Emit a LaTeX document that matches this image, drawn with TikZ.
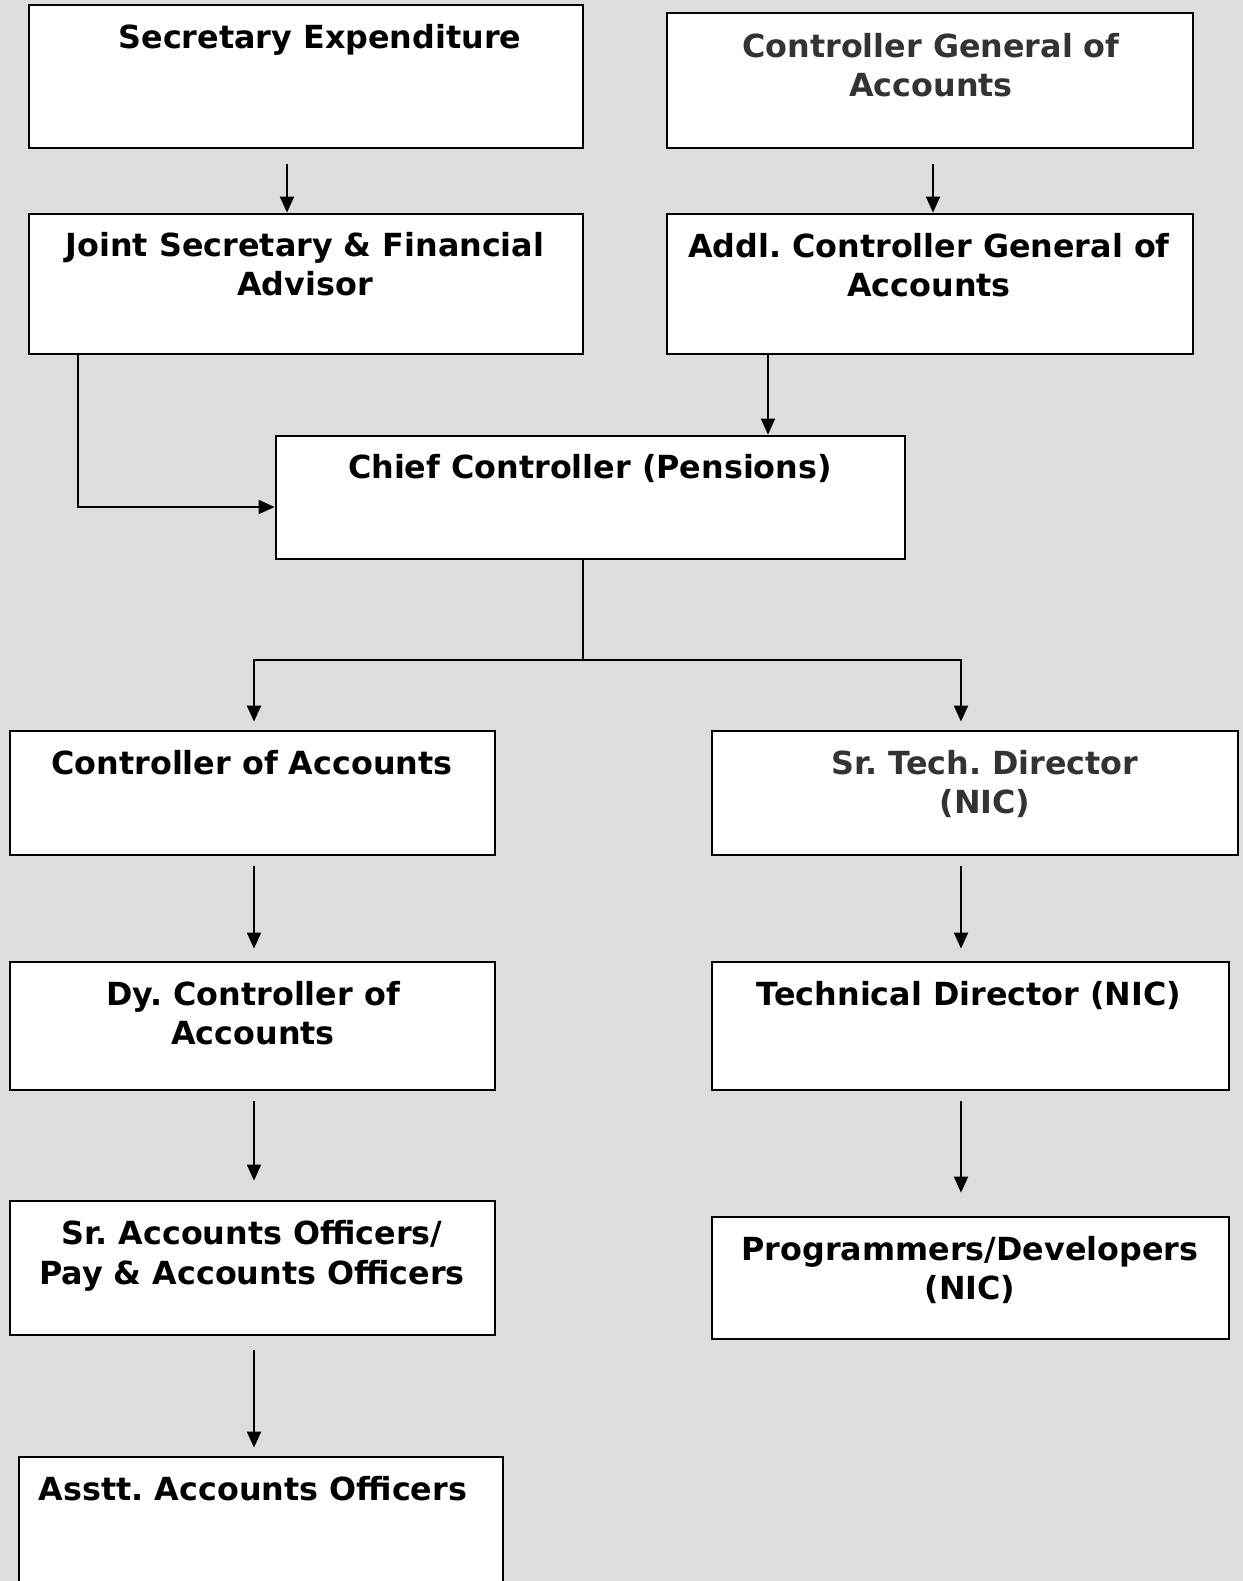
\documentclass[tikz,border=0pt]{standalone}
\usepackage{fontspec}
\setmainfont{DejaVu Sans}
\usetikzlibrary{arrows.meta,fit,calc}
\definecolor{bgcol}{RGB}{221,221,221}
\definecolor{txtgray}{RGB}{51,51,51}
\frenchspacing
\tikzset{
  box/.style={draw=black, line width=1.4pt, fill=white, inner sep=0pt},
  txt/.style={font=\bfseries\fontsize{15.9}{19}\selectfont, inner sep=0pt, anchor=base},
  arr/.style={-{Triangle[width=7pt,length=8pt]}, line width=1pt},
  conn/.style={line width=1pt}
}
\begin{document}
\begin{tikzpicture}[x=0.5pt, y=-0.5pt]
\useasboundingbox (0,0) rectangle (1243,1581);
\fill[bgcol] (0,0) rectangle (1243,1581);

% boxes
\node[box, fit={(29,5) (583,148)}] (se) {};
\node[box, fit={(667,13) (1193,148)}] (cga) {};
\node[box, fit={(29,214) (583,354)}] (js) {};
\node[box, fit={(667,214) (1193,354)}] (acga) {};
\node[box, fit={(276,436) (905,559)}] (chief) {};
\node[box, fit={(10,731) (495,855)}] (coa) {};
\node[box, fit={(712,731) (1238,855)}] (std) {};
\node[box, fit={(10,962) (495,1090)}] (dy) {};
\node[box, fit={(712,962) (1229,1090)}] (td) {};
\node[box, fit={(10,1201) (495,1335)}] (srao) {};
\node[box, fit={(712,1217) (1229,1339)}] (prog) {};
\node[box, fit={(19,1457) (503,1620)}] (asstt) {};

% texts
\node[txt] (tse) at (320,48) {Secretary Expenditure};
\node[txt, text=txtgray] (tcga1) at (931,57) {Controller General of};
\node[txt, text=txtgray] (tcga2) at (931,96) {Accounts};
\node[txt] (tjs1) at (305,256) {Joint Secretary \& Financial};
\node[txt] (tjs2) at (305,295) {Advisor};
\node[txt] (tacga1) at (929,257) {Addl. Controller General of};
\node[txt] (tacga2) at (929,296) {Accounts};
\node[txt] (tchief) at (590,478) {Chief Controller (Pensions)};
\node[txt] (tcoa) at (252,774) {Controller of Accounts};
\node[txt, text=txtgray] (tstd1) at (985,774) {Sr. Tech. Director};
\node[txt, text=txtgray] (tstd2) at (985,813) {(NIC)};
\node[txt] (tdy1) at (253,1005) {Dy. Controller of};
\node[txt] (tdy2) at (253,1044) {Accounts};
\node[txt] (ttd) at (969,1005) {Technical Director (NIC)};
\node[txt] (tsr1) at (252,1244) {Sr. Accounts Officers/};
\node[txt] (tsr2) at (252,1284) {Pay \& Accounts Officers};
\node[txt] (tprog1) at (970,1260) {Programmers/Developers};
\node[txt] (tprog2) at (970,1299) {(NIC)};
\node[txt] (tasstt) at (253,1500) {Asstt. Accounts Officers};

% connectors
\draw[arr, shorten <=7.5pt] ([xshift=-9.5pt]se.south) coordinate (p1) -- (p1 |- js.north);
\draw[arr, shorten <=7.5pt] ([xshift=1.5pt]cga.south) coordinate (p2) -- (p2 |- acga.north);
\draw[arr] ([xshift=-114pt]js.south) |- ([yshift=-4.75pt]chief.west);
\draw[arr] ([xshift=-81pt]acga.south) coordinate (p3) -- (p3 |- chief.north);
\draw[conn] ([xshift=-3.75pt]chief.south) -- ++(0,100) coordinate (hub);
\draw[arr, shorten >=4pt] (hub) -| ([xshift=0.75pt]coa.north);
\draw[arr, shorten >=4pt] (hub) -| ([xshift=-7pt]std.north);
\draw[arr, shorten <=5pt, shorten >=6pt] ([xshift=0.75pt]coa.south) coordinate (p4) -- (p4 |- dy.north);
\draw[arr, shorten <=5pt, shorten >=6pt] ([xshift=-7pt]std.south) coordinate (p5) -- (p5 |- td.north);
\draw[arr, shorten <=5pt, shorten >=9.5pt] ([xshift=0.75pt]dy.south) coordinate (p6) -- (p6 |- srao.north);
\draw[arr, shorten <=5pt, shorten >=11.5pt] ([xshift=-4.75pt]td.south) coordinate (p7) -- (p7 |- prog.north);
\draw[arr, shorten <=7pt, shorten >=4pt] ([xshift=0.75pt]srao.south) coordinate (p8) -- (p8 |- asstt.north);
\end{tikzpicture}
\end{document}
